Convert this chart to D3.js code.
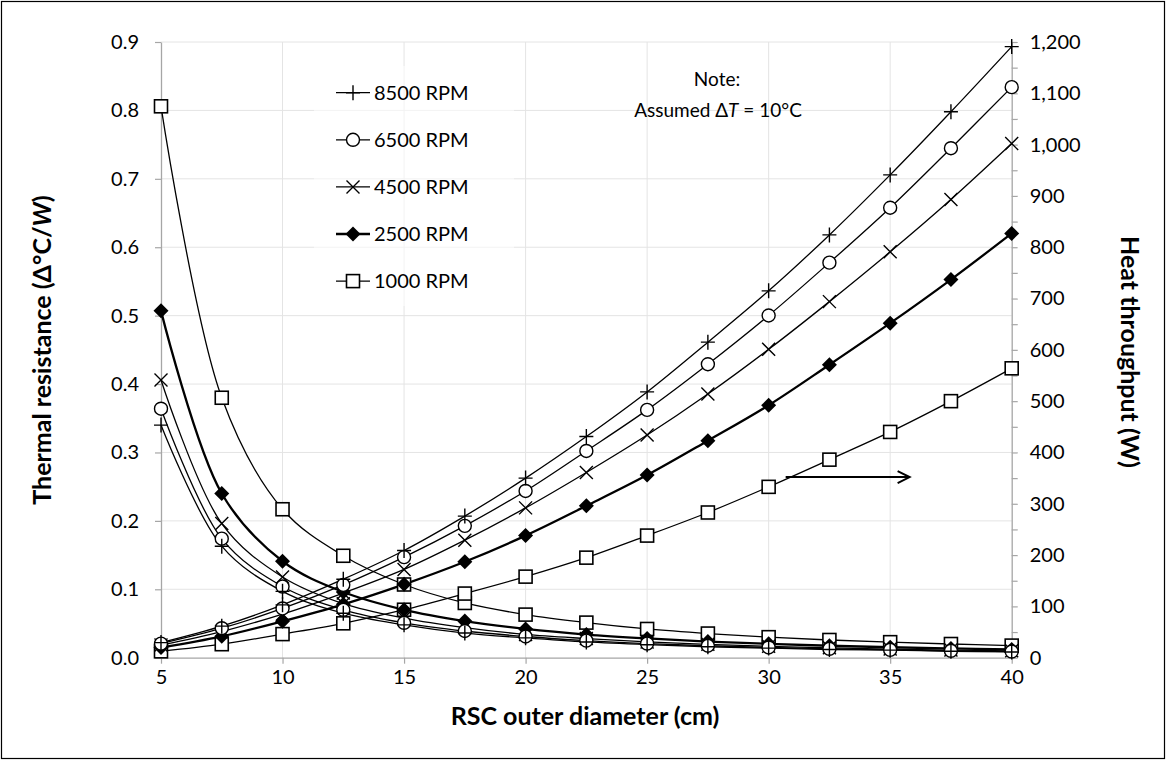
<!DOCTYPE html>
<html>
<head>
<meta charset="utf-8">
<script src="https://cdn.jsdelivr.net/npm/d3@7"></script>
<style>
  body { margin: 0; background: #fff; }
  text { font-family: Lato, "Open Sans", sans-serif; fill: #000; }
</style>
</head>
<body>
<div class="chart"></div>
<script>
// RSC outer diameter (cm)
const diameters = [5, 7.5, 10, 12.5, 15, 17.5, 20, 22.5, 25, 27.5, 30, 32.5, 35, 37.5, 40]
const rpmLabels = ["8500 RPM", "6500 RPM", "4500 RPM", "2500 RPM", "1000 RPM"]

// thermal resistance (left axis)
const res8500 = [0.340, 0.163, 0.097, 0.065, 0.048, 0.036, 0.029, 0.023, 0.019, 0.016, 0.014, 0.012, 0.011, 0.0094, 0.0084]
const res6500 = [0.364, 0.174, 0.104, 0.070, 0.051, 0.039, 0.031, 0.025, 0.0207, 0.0175, 0.015, 0.013, 0.0114, 0.0101, 0.0090]
const res4500 = [0.406, 0.196, 0.118, 0.079, 0.058, 0.044, 0.034, 0.028, 0.023, 0.0195, 0.0166, 0.0144, 0.0126, 0.0112, 0.0100]
const res2500 = [0.507, 0.240, 0.141, 0.096, 0.070, 0.0535, 0.042, 0.0338, 0.0281, 0.0236, 0.0203, 0.0175, 0.0153, 0.0136, 0.0121]
const res1000 = [0.806, 0.380, 0.217, 0.149, 0.107, 0.080, 0.063, 0.0513, 0.042, 0.0353, 0.030, 0.0259, 0.0227, 0.020, 0.0177]

// heat throughput (right axis, W)
const heat8500 = [29.4, 61.5, 103, 153, 209, 276, 350, 431, 518, 615, 715, 824, 941, 1064, 1191]
const heat6500 = [27.5, 57.5, 96, 142, 196, 257, 325, 403, 483, 572, 667, 770, 877, 993, 1112]
const heat4500 = [24.6, 51, 85, 126, 172, 229, 292, 361, 434, 514, 601, 694, 791, 893, 1002]
const heat2500 = [19.7, 41.6, 71, 104, 143, 187, 238, 296, 356, 423, 492, 571, 652, 737, 827]
const heat1000 = [12.4, 26.3, 46, 67, 93.5, 125, 158, 195, 238, 283, 333, 386, 440, 500, 564]

const leftTicks = [0, 0.1, 0.2, 0.3, 0.4, 0.5, 0.6, 0.7, 0.8, 0.9]
const rightTicks = d3.range(0, 1201, 50)
const bottomTicks = [5, 10, 15, 20, 25, 30, 35, 40]

const W = 1167, H = 761
const svg = d3.select(".chart").append("svg").attr("width", W).attr("height", H)

svg.append("rect").attr("x", 1.5).attr("y", 1.5).attr("width", W - 4).attr("height", H - 4)
  .attr("fill", "#fff").attr("stroke", "#000").attr("stroke-width", 1.2)

const x = d3.scaleLinear().domain([5, 40]).range([161, 1011.7])
const yL = d3.scaleLinear().domain([0, 0.9]).range([657.7, 42])
const yR = d3.scaleLinear().domain([0, 1200]).range([657.7, 42])

// gridlines
const grid = svg.append("g").attr("stroke", "#e4e4e4").attr("stroke-width", 1)
grid.selectAll("line.h").data(leftTicks.slice(1)).enter().append("line")
  .attr("x1", x(5)).attr("x2", x(40)).attr("y1", d => yL(d)).attr("y2", d => yL(d))
grid.selectAll("line.v").data(bottomTicks.slice(1, -1)).enter().append("line")
  .attr("y1", yL(0)).attr("y2", yL(0.9)).attr("x1", d => x(d)).attr("x2", d => x(d))

// axes
const styleAxis = g => {
  g.selectAll(".domain").attr("stroke", "#a6a6a6").attr("stroke-width", 1.3)
  g.selectAll(".tick line").attr("stroke", "#a6a6a6").attr("stroke-width", 1.2)
  g.selectAll(".tick text").style("font-size", "20px").attr("fill", "#000")
}
svg.append("g").attr("transform", `translate(${x(5)},0)`)
  .call(d3.axisLeft(yL).tickValues(leftTicks).tickFormat(d3.format(".1f")).tickSize(6).tickPadding(16).tickSizeOuter(0))
  .call(styleAxis)
svg.append("g").attr("transform", `translate(${x(40)},0)`)
  .call(d3.axisRight(yR).tickValues(rightTicks).tickFormat(d => d % 100 === 0 ? d3.format(",")(d) : "").tickSize(6).tickPadding(12).tickSizeOuter(0))
  .call(styleAxis)
svg.append("g").attr("transform", `translate(0,${yL(0)})`)
  .call(d3.axisBottom(x).tickValues(bottomTicks).tickSize(6).tickPadding(6).tickSizeOuter(0))
  .call(styleAxis)

// axis titles
svg.append("text").attr("transform", "translate(51,350) rotate(-90)")
  .attr("text-anchor", "middle").style("font-size", "25px").style("font-weight", "bold")
  .html('Thermal resistance (Δ°C/<tspan font-style="italic">W</tspan>)')
svg.append("text").attr("transform", "translate(1121,352) rotate(90)")
  .attr("text-anchor", "middle").style("font-size", "25px").style("font-weight", "bold")
  .text("Heat throughput (W)")
svg.append("text").attr("x", 585).attr("y", 725)
  .attr("text-anchor", "middle").style("font-size", "25px").style("font-weight", "bold")
  .text("RSC outer diameter (cm)")

// markers
const markers = {
  plus: g => g.append("path").attr("d", "M-7,0H7M0,-7.5V7.5").attr("stroke", "#000").attr("stroke-width", 1.4),
  circle: g => g.append("circle").attr("r", 6.5).attr("fill", "#fff").attr("stroke", "#000").attr("stroke-width", 1.4),
  cross: g => g.append("path").attr("d", "M-6.5,-6.5L6.5,6.5M-6.5,6.5L6.5,-6.5").attr("stroke", "#000").attr("stroke-width", 1.4),
  diamond: g => g.append("path").attr("d", "M0,-7.5L7.5,0L0,7.5L-7.5,0Z").attr("fill", "#000"),
  square: g => g.append("rect").attr("x", -6.5).attr("y", -6.5).attr("width", 13).attr("height", 13)
    .attr("fill", "#fff").attr("stroke", "#000").attr("stroke-width", 1.6)
}

const series = [
  { name: rpmLabels[0], res: res8500, heat: heat8500, marker: "plus", width: 1.3 },
  { name: rpmLabels[1], res: res6500, heat: heat6500, marker: "circle", width: 1.3 },
  { name: rpmLabels[2], res: res4500, heat: heat4500, marker: "cross", width: 1.3 },
  { name: rpmLabels[3], res: res2500, heat: heat2500, marker: "diamond", width: 2.3 },
  { name: rpmLabels[4], res: res1000, heat: heat1000, marker: "square", width: 1.3 }
]

const lineL = d3.line().x(d => x(d[0])).y(d => yL(d[1])).curve(d3.curveCatmullRom.alpha(0.5))
const lineR = d3.line().x(d => x(d[0])).y(d => yR(d[1])).curve(d3.curveCatmullRom.alpha(0.5))

const plot = svg.append("g")
series.forEach(s => {
  const ptsL = diameters.map((d, i) => [d, s.res[i]])
  const ptsR = diameters.map((d, i) => [d, s.heat[i]])
  plot.append("path").attr("d", lineL(ptsL)).attr("fill", "none").attr("stroke", "#000").attr("stroke-width", s.width)
  plot.append("path").attr("d", lineR(ptsR)).attr("fill", "none").attr("stroke", "#000").attr("stroke-width", s.width)
})
series.slice().reverse().forEach(s => {
  diameters.forEach((d, i) => {
    markers[s.marker](plot.append("g").attr("transform", `translate(${x(d)},${yL(s.res[i])})`))
    markers[s.marker](plot.append("g").attr("transform", `translate(${x(d)},${yR(s.heat[i])})`))
  })
})

// legend
const legend = svg.append("g")
legend.append("rect").attr("x", 314).attr("y", 66).attr("width", 200).attr("height", 240).attr("fill", "#fff").attr("opacity", 0.55)
series.forEach((s, i) => {
  const ly = 92.7 + i * 47.1
  legend.append("line").attr("x1", 336).attr("x2", 370).attr("y1", ly).attr("y2", ly)
    .attr("stroke", "#000").attr("stroke-width", s.width)
  markers[s.marker](legend.append("g").attr("transform", `translate(353,${ly})`))
  legend.append("text").attr("x", 374).attr("y", ly).attr("dy", "0.36em")
    .style("font-size", "20px").text(s.name)
})

// note
svg.append("text").attr("x", 717).attr("y", 86).attr("text-anchor", "middle").style("font-size", "19px").text("Note:")
svg.append("text").attr("x", 718).attr("y", 117).attr("text-anchor", "middle").style("font-size", "19px")
  .html('Assumed Δ<tspan font-style="italic">T</tspan> = 10°C')

// arrow pointing to the right axis
const arrowFrom = [30.7, 352], arrowTo = [35.8, 352]
const ax1 = x(arrowFrom[0]), ax2 = x(arrowTo[0]), ay = yR(arrowFrom[1])
svg.append("path")
  .attr("d", `M${ax1},${ay}H${ax2}M${ax2 - 12},${ay - 6}L${ax2},${ay}L${ax2 - 12},${ay + 6}`)
  .attr("fill", "none").attr("stroke", "#000").attr("stroke-width", 2)
</script>
</body>
</html>
